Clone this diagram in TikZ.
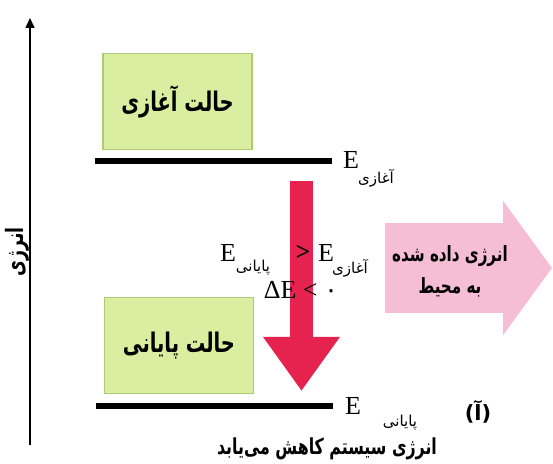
\documentclass[tikz,border=0pt]{standalone}
\usepackage{fontspec}
\usepackage{graphicx}
\usepackage{tikz}
\usetikzlibrary{arrows.meta,positioning,calc}
\TeXXeTstate=1
\newfontfamily\arabicfont[Script=Arabic]{DejaVu Sans}
\newfontfamily\plainsans{DejaVu Sans}
\newfontfamily\serifE{Liberation Serif}
\definecolor{boxgreen}{RGB}{218,238,162}
\definecolor{boxedge}{RGB}{172,204,118}
\definecolor{arrowred}{RGB}{230,34,78}
\definecolor{arrowpink}{RGB}{246,190,212}
% narrow right-to-left text
\newcommand{\fatext}[1]{\scalebox{0.72}[1]{\beginR #1\endR}}

\begin{document}
\begin{tikzpicture}[x=0.5pt, y=-0.5pt,
    statebox/.style={draw=boxedge, fill=boxgreen, line width=0.6pt, minimum width=74.5pt, minimum height=48pt, inner sep=0pt, font=\arabicfont\bfseries\fontsize{13.5}{15}\selectfont},
    level/.style={line width=3pt},
    fa/.style={font=\arabicfont\bfseries\fontsize{11}{16}\selectfont, inner sep=0pt, align=center},
    sub/.style={font=\arabicfont\fontsize{7.5}{8}\selectfont, inner sep=0pt},
    en/.style={font=\serifE\fontsize{13}{15}\selectfont, inner sep=0pt},
  ]
  \useasboundingbox (0,0) rectangle (553,464);

  % Energy axis
  \coordinate (axbot) at (30,445);
  \coordinate (axtop) at (30,18);
  \draw[-{Triangle[length=5pt,width=4.5pt]}, line width=0.8pt] (axbot) -- (axtop);
  \node[fa, font=\arabicfont\bfseries\fontsize{12}{12}\selectfont, rotate=90] (axlabel) at (17,252) {\fatext{انرژی}};

  % States
  \node[statebox] (initial) at (177.5,101.5) {\fatext{حالت آغازی}};
  \node[statebox] (final) at (179,345.5) {\fatext{حالت پایانی}};

  % Levels
  \coordinate (topL) at (95,161);
  \coordinate (topR) at (332,161);
  \coordinate (botL) at (96,406);
  \coordinate (botR) at (333,406);
  \draw[level] (topL) -- (topR);
  \draw[level] (botL) -- (botR);
  \node[en] (Etop) at (351,160) {E};
  \node[sub] (Etopsub) at (376,178) {\beginR آغازی\endR};
  \node[en] (Ebot) at (353,406) {E};
  \node[sub] (Ebotsub) at (400,423) {\beginR پایانی\endR};

  % Red arrow
  \coordinate (redtop) at (301.5,181);
  \coordinate (redtip) at (301.5,391);
  \draw[arrowred, line width=11.5pt, -{Triangle[length=27pt,width=36.5pt]}] (redtop) -- (redtip);

  % Relation
  \node[en] (Efin) at (228,253) {E};
  \node[sub] (Efinsub) at (253,268) {\beginR پایانی\endR};
  \node[en, font=\serifE\bfseries\fontsize{13}{15}\selectfont] (rel) at (303,253) {>};
  \node[en] (Eini) at (326,253) {E};
  \node[sub] (Einisub) at (350,268) {\beginR آغازی\endR};
  \node[en] (dE) at (301,290) {ΔE < {\arabicfont ۰}};

  % Pink arrow
  \coordinate (pinkL) at (385,268);
  \coordinate (pinkR) at (552,268);
  \draw[arrowpink, line width=45pt, -{Triangle[length=24.5pt,width=66pt]}] (pinkL) -- (pinkR);
  \node[fa, font=\arabicfont\bfseries\fontsize{10.5}{16}\selectfont] (released) at (450,271) {\fatext{انرژی داده شده}\\\fatext{به محیط}};

  % Caption
  \node[fa] (caption) at (327,449) {\fatext{انرژی سیستم کاهش می‌یابد}};
  \node[fa, font=\plainsans\bfseries\fontsize{10.5}{12}\selectfont] (part) at (478,412) {(\mbox{\arabicfont آ})};
\end{tikzpicture}
\end{document}
